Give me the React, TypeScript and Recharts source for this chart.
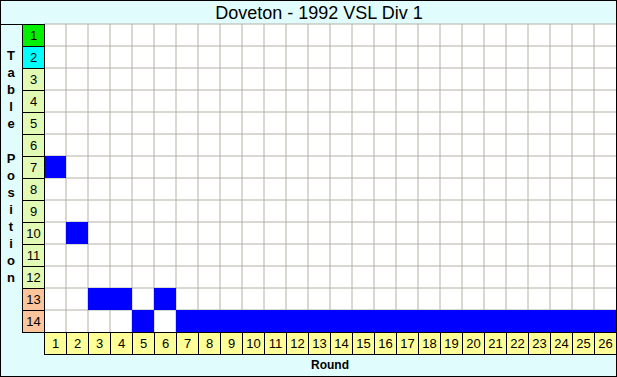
import React from 'react';
import { ComposedChart, Bar, XAxis, YAxis, CartesianGrid } from 'recharts';

const rounds = Array.from({ length: 26 }, (_, i) => i + 1);
const positions = [7, 10, 13, 13, 14, 13, 14, 14, 14, 14, 14, 14, 14, 14, 14, 14, 14, 14, 14, 14, 14, 14, 14, 14, 14, 14];
const positionTicks = [1, 2, 3, 4, 5, 6, 7, 8, 9, 10, 11, 12, 13, 14];
const rowColors: Record<number, string> = { 1: '#00f000', 2: '#00ffff', 13: '#fcc49a', 14: '#fcc49a' };
const defaultRowColor = '#e2fbb4';
const title = 'Doveton - 1992 VSL Div 1';
const yLabel = 'Table Position';
const xLabel = 'Round';

const data = rounds.map((r, i) => ({ round: r, pos: positions[i] }));

const W = 617;
const H = 377;
const CELL = 22;

const YTick = (props: any) => {
  const { x, y, payload } = props;
  const v = payload.value;
  return (
    <g>
      <rect x={x - CELL + 0.5} y={y - CELL / 2 + 0.5} width={CELL} height={CELL} fill={rowColors[v] || defaultRowColor} stroke="#000" strokeWidth={1} />
      <text x={x - CELL / 2 + 0.5} y={y + 5} textAnchor="middle" fontFamily="Liberation Sans, Arial" fontSize={13} fill="#000">{v}</text>
    </g>
  );
};

const XTick = (props: any) => {
  const { x, y, payload } = props;
  return (
    <g>
      <rect x={x - CELL / 2 + 0.5} y={y + 0.5} width={CELL} height={CELL} fill="#ffff98" stroke="#000" strokeWidth={1} />
      <text x={x + 0.5} y={y + 16} textAnchor="middle" fontFamily="Liberation Sans, Arial" fontSize={13} fill="#000">{payload.value}</text>
    </g>
  );
};

export default function App() {
  return (
    <div style={{ position: 'absolute', left: 0, top: 0, width: W, height: H }}>
      <svg width={W} height={H} style={{ position: 'absolute', left: 0, top: 0 }}>
        <rect x={0.5} y={0.5} width={W - 1} height={H - 1} fill="#e0fcfc" stroke="#000" />
        <line x1={0} y1={24.5} x2={W} y2={24.5} stroke="#000" />
        <text x={319} y={19} textAnchor="middle" fontFamily="Liberation Sans, Arial" fontSize={18} fill="#000">{title}</text>
        {yLabel.split('').map((ch, i) => (
          <text key={i} x={11} y={60 + i * 17.1} textAnchor="middle" fontFamily="Liberation Sans, Arial" fontWeight="bold" fontSize={13} fill="#000">{ch}</text>
        ))}
        <text x={330} y={369} textAnchor="middle" fontFamily="Liberation Sans, Arial" fontWeight="bold" fontSize={12} fill="#000">{xLabel}</text>
      </svg>
      <div style={{ position: 'absolute', left: 0, top: 0 }}>
        <ComposedChart width={W} height={H} data={data} margin={{ top: 24, right: 1, bottom: 23, left: 22 }} barCategoryGap={0} barGap={0}>
          <CartesianGrid
            fill="#ffffff"
            stroke="#b4b0a4"
            strokeDasharray=""
            verticalCoordinatesGenerator={({ offset }: any) => rounds.map((_, i) => offset.left + (i * offset.width) / rounds.length)}
            horizontalCoordinatesGenerator={({ offset }: any) => positionTicks.map((_, i) => offset.top + (i * offset.height) / positionTicks.length)}
          />
          <XAxis dataKey="round" type="category" height={22} axisLine={false} tickLine={false} tickSize={0} tickMargin={0} tick={<XTick />} interval={0} />
          <YAxis type="number" domain={[0.5, 14.5]} reversed ticks={positionTicks} width={22} axisLine={false} tickLine={false} tickSize={0} tickMargin={0} tick={<YTick />} interval={0} />
          <Bar dataKey={(d: any) => [d.pos - 0.5, d.pos + 0.5]} fill="#0000ff" isAnimationActive={false} />
        </ComposedChart>
      </div>
      <svg width={W} height={H} style={{ position: 'absolute', left: 0, top: 0, pointerEvents: 'none' }}>
        <line x1={44.5} y1={24} x2={44.5} y2={333} stroke="#000" />
        <line x1={44} y1={332.5} x2={W} y2={332.5} stroke="#000" />
      </svg>
    </div>
  );
}
